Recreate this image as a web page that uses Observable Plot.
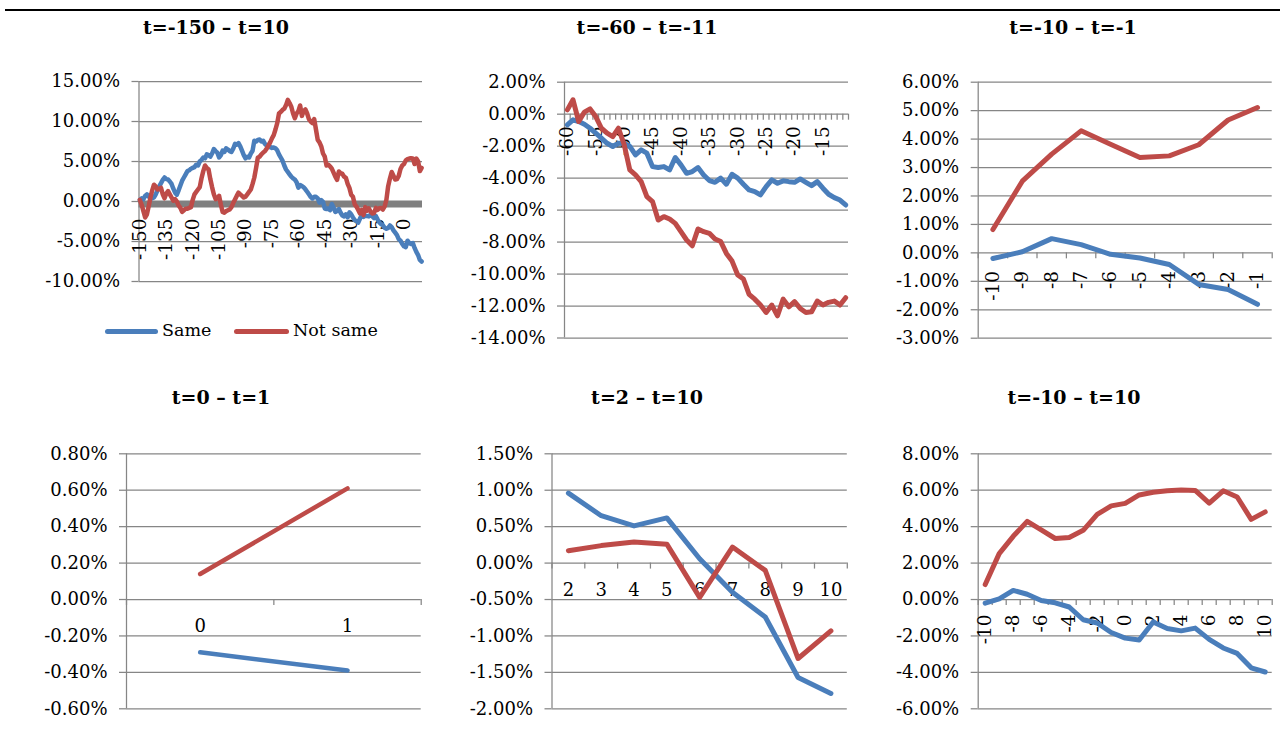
<!DOCTYPE html>
<html>
<head>
<meta charset="utf-8">
<script src="https://cdn.jsdelivr.net/npm/d3@7"></script>
<script src="https://cdn.jsdelivr.net/npm/@observablehq/plot@0.6"></script>
<style>
  body { margin: 0; background: #fff; }
  #page { position: relative; width: 1285px; height: 749px; overflow: hidden; font-family: "DejaVu Serif", serif; color: #000; }
  .title { position: absolute; font-weight: bold; font-size: 19px; white-space: nowrap; transform: translate(-50%, -50%); line-height: 1; }
  #toprule { position: absolute; left: 5px; top: 9px; width: 1275px; height: 2px; background: #000; }
  .plotwrap { position: absolute; left: 0; top: 0; }
  .legline { position: absolute; height: 5px; border-radius: 3px; }
  .legtext { position: absolute; font-size: 17.5px; white-space: nowrap; transform: translateY(-50%); line-height: 1; }
</style>
</head>
<body>
<div id="page">
  <div id="toprule"></div>
  <div class="title" style="left:216px;top:27px">t=-150 – t=10</div>
  <div class="title" style="left:647px;top:27px">t=-60 – t=-11</div>
  <div class="title" style="left:1073px;top:27px">t=-10 – t=-1</div>
  <div class="title" style="left:221px;top:397px">t=0 – t=1</div>
  <div class="title" style="left:647px;top:397px">t=2 – t=10</div>
  <div class="title" style="left:1074px;top:397px">t=-10 – t=10</div>
  <div class="legline" style="left:105px;top:328.5px;width:53px;background:#4A7EBB"></div>
  <div class="legtext" style="left:162px;top:331px">Same</div>
  <div class="legline" style="left:234px;top:328.5px;width:55px;background:#BE4B48"></div>
  <div class="legtext" style="left:293px;top:331px">Not same</div>
</div>
<script>
// ---------- data (values in percent) ----------
const seriesNames = ["Same", "Not same"];

// Panel 1: t=-150 .. t=10
const p1Categories = d3.range(-150, 11);
const p1Labels = [-150, -135, -120, -105, -90, -75, -60, -45, -30, -15, 0];
const p1Same = [
  0.2, 0.4, 0.3, 0.7, 0.9, 0.6, 0.8, 0.4, 0.5, 0.9,
  1.4, 1.9, 2.3, 2.7, 3.0, 2.8, 2.75, 2.5, 2.2, 1.6,
  1.1, 0.85, 1.4, 2.0, 2.6, 3.0, 3.4, 3.8, 3.9, 4.1,
  4.2, 4.3, 4.6, 4.5, 5.0, 5.2, 5.5, 5.4, 5.9, 5.8,
  5.6, 6.0, 6.55, 6.3, 6.1, 5.5, 5.8, 6.35, 6.2, 6.65,
  6.5, 6.3, 6.2, 6.6, 7.2, 7.1, 7.3, 6.9, 6.35, 5.8,
  5.4, 5.6, 5.5, 6.0, 6.35, 7.6, 7.5, 7.7, 7.75, 7.5,
  7.6, 7.2, 7.0, 7.1, 6.8, 6.7, 6.75, 6.65, 6.4, 5.9,
  5.5, 5.1, 4.5, 4.0, 3.7, 3.4, 3.1, 2.9, 2.75, 2.4,
  1.73, 2.05, 1.94, 1.77, 1.52, 1.21, 0.90, 0.58, 0.38, 0.58,
  0.58, 0.38, -0.15, 0.17, -0.04, -0.88, -0.94, -0.88, -1.09, -0.31,
  -0.77, -1.30, -1.19, -0.94, -1.40, -1.75, -1.86, -1.60, -1.98, -1.36,
  -1.60, -1.98, -2.34, -2.44, -2.65, -2.13, -1.71, -1.92, -1.77, -1.82,
  -1.86, -1.65, -1.86, -2.07, -1.82, -2.23, -2.61, -2.82, -2.97, -3.28,
  -3.4, -3.3, -3.0, -3.2, -3.6, -3.9, -4.2, -4.7, -4.9, -5.3, -5.6,
  -5.7, -4.9, -5.2, -5.3, -5.2, -5.8, -6.3, -6.7, -7.3, -7.5
];
const p1NotSame = [
  0.2, -0.4, -1.2, -2.0, -1.6, -0.6, 0.5, 1.4, 2.1, 1.9,
  1.5, 1.6, 1.7, 0.9, 0.4, 1.0, 1.3, 0.9, 0.5, 0.1,
  0.3, 0.0, -0.5, -0.8, -1.3, -1.1, -0.9, -0.9, -0.8, -0.7,
  0.2, 0.9, 1.2, 1.5, 1.8, 2.9, 3.8, 4.5, 4.2, 4.0,
  2.8, 1.8, 0.9, 0.3, 0.4, 0.7, -0.4, -1.3, -1.4, -1.2,
  -1.1, -1.0, -0.7, -0.2, 0.25, 0.7, 1.1, 0.9, 0.7, 0.5,
  0.6, 0.9, 1.2, 1.5, 2.2, 3.0, 4.2, 5.5, 5.6, 5.9,
  6.1, 6.3, 6.6, 7.0, 7.4, 7.9, 8.3, 9.0, 9.8, 11.0,
  11.2, 11.45, 11.6, 12.05, 12.7, 12.3, 11.85, 11.0, 10.4, 11.0,
  11.3, 12.0, 10.7, 11.3, 11.5, 11.0, 10.3, 10.0, 9.8, 10.3,
  9.0, 7.7, 7.4, 6.9, 6.0, 5.6, 4.5, 4.6, 4.4, 4.1,
  3.6, 3.1, 2.7, 3.75, 3.55, 3.45, 3.1, 2.95, 2.2, 1.7,
  0.85, 0.6, -0.35, -0.65, -1.05, -1.5, -1.05, -1.7, -0.7, -1.15,
  -0.85, -1.25, -1.5, -1.45, -0.8, -1.05, -0.85, -0.8, -1.0, -0.6,
  0.22, 1.92, 2.87, 3.69, 3.22, 2.75, 2.81, 3.20, 4.07, 4.51, 4.68,
  5.14, 5.29, 5.37, 5.41, 5.39, 4.68, 5.36, 5.03, 3.80, 4.20
];
const p1Ticks = [-10, -5, 0, 5, 10, 15];

// Panel 2: t=-60 .. t=-11
const p2Categories = d3.range(-60, -10);
const p2Labels = [-60, -55, -50, -45, -40, -35, -30, -25, -20, -15];
const p2Same = [
  -0.67, -0.35, -0.46, -0.63, -0.88, -1.19, -1.50, -1.82, -2.02, -1.82,
  -1.82, -2.02, -2.55, -2.23, -2.44, -3.28, -3.34, -3.28, -3.49, -2.71,
  -3.17, -3.70, -3.59, -3.34, -3.80, -4.15, -4.26, -4.00, -4.38, -3.76,
  -4.00, -4.38, -4.74, -4.84, -5.05, -4.53, -4.11, -4.32, -4.17, -4.22,
  -4.26, -4.05, -4.26, -4.47, -4.22, -4.63, -5.01, -5.22, -5.37, -5.68
];
const p2NotSame = [
  0.27, 0.90, -0.46, 0.13, 0.33, -0.15, -0.88, -1.19, -1.40, -0.88,
  -1.90, -3.49, -3.80, -4.22, -5.16, -5.47, -6.62, -6.41, -6.56, -6.83,
  -7.35, -7.87, -8.23, -7.18, -7.35, -7.45, -7.81, -7.97, -8.71, -9.19,
  -10.06, -10.31, -11.27, -11.57, -11.94, -12.40, -11.94, -12.61, -11.57, -12.05,
  -11.73, -12.15, -12.40, -12.36, -11.69, -11.94, -11.77, -11.69, -11.94, -11.48
];
const p2Ticks = [-14, -12, -10, -8, -6, -4, -2, 0, 2];

// Panel 3: t=-10 .. t=-1
const p3Categories = [-10, -9, -8, -7, -6, -5, -4, -3, -2, -1];
const p3Labels = p3Categories;
const p3Same = [-0.20, 0.04, 0.50, 0.29, -0.05, -0.18, -0.41, -1.11, -1.29, -1.81];
const p3NotSame = [0.82, 2.52, 3.47, 4.29, 3.82, 3.35, 3.41, 3.80, 4.67, 5.11];
const p3Ticks = [-3, -2, -1, 0, 1, 2, 3, 4, 5, 6];

// Panel 4: t=0 .. t=1
const p4Categories = [0, 1];
const p4Labels = p4Categories;
const p4Same = [-0.29, -0.39];
const p4NotSame = [0.14, 0.61];
const p4Ticks = [-0.6, -0.4, -0.2, 0, 0.2, 0.4, 0.6, 0.8];

// Panel 5: t=2 .. t=10
const p5Categories = [2, 3, 4, 5, 6, 7, 8, 9, 10];
const p5Labels = p5Categories;
const p5Same = [0.96, 0.65, 0.51, 0.62, 0.06, -0.40, -0.74, -1.57, -1.79];
const p5NotSame = [0.17, 0.24, 0.29, 0.26, -0.47, 0.22, -0.10, -1.31, -0.93];
const p5Ticks = [-2, -1.5, -1, -0.5, 0, 0.5, 1, 1.5];

// Panel 6: t=-10 .. t=10
const p6Categories = d3.range(-10, 11);
const p6Labels = [-10, -8, -6, -4, -2, 0, 2, 4, 6, 8, 10];
const p6Same = [-0.20, 0.04, 0.50, 0.29, -0.05, -0.18, -0.41, -1.11, -1.29, -1.81, -2.12,
                -2.22, -1.23, -1.59, -1.72, -1.57, -2.19, -2.66, -2.96, -3.75, -3.98];
const p6NotSame = [0.82, 2.52, 3.47, 4.29, 3.82, 3.35, 3.41, 3.80, 4.67, 5.14, 5.28,
                   5.74, 5.89, 5.97, 6.01, 5.99, 5.29, 5.97, 5.63, 4.40, 4.81];
const p6Ticks = [-6, -4, -2, 0, 2, 4, 6, 8];

// ---------- drawing ----------
const W = 1285, H = 749;
const BLUE = "#4A7EBB", RED = "#BE4B48", GRID = "#868686";

function panel(o) {
  const {cats, same, notSame, x0, x1, y0, y1, yDomain, yTicks, labels, rotate, labelDy,
         lineWidth = 5, zeroBand = false, catTicks = true} = o;
  const xDomain = [cats[0] - 0.5, cats[cats.length - 1] + 0.5];
  const bounds = d3.range(cats.length + 1).map(i => cats[0] - 0.5 + i);
  const marks = [
    Plot.gridY({ticks: yTicks, stroke: GRID, strokeOpacity: 1, strokeWidth: 1.25}),
    Plot.axisY({ticks: yTicks, tickSize: 7, tickPadding: 12, tickFormat: d => d.toFixed(2) + "%",
                stroke: GRID, strokeOpacity: 1, strokeWidth: 1.25, fill: "#000", fontSize: 18, label: null}),
    Plot.ruleX([xDomain[0]], {stroke: GRID, strokeWidth: 1.25})
  ];
  if (zeroBand) marks.push(Plot.ruleY([0], {stroke: "#808080", strokeWidth: 7, dy: 2.5}));
  if (catTicks) marks.push(Plot.ruleX(bounds, {x: d => d, y1: 0, y2: 0, insetBottom: -6, stroke: GRID, strokeWidth: 1.25}));
  marks.push(Plot.text(labels, {
    x: d => d, y: 0, text: d => String(d),
    rotate: rotate ? -90 : 0, textAnchor: rotate ? "end" : "middle", lineAnchor: "middle",
    dy: labelDy, fontSize: rotate ? 18.5 : 18, fill: "#000"
  }));
  const lineOpts = {x: cats, strokeWidth: lineWidth, strokeLinecap: "round", strokeLinejoin: "round"};
  marks.push(Plot.lineY(same, {...lineOpts, stroke: BLUE}));
  marks.push(Plot.lineY(notSame, {...lineOpts, stroke: RED}));
  const svg = Plot.plot({
    width: W, height: H,
    marginLeft: x0, marginRight: W - x1, marginTop: y0, marginBottom: H - y1,
    x: {domain: xDomain, axis: null},
    y: {domain: yDomain},
    style: {background: "transparent", fontFamily: "DejaVu Serif", fontSize: "18px", color: "#000", overflow: "visible"},
    marks
  });
  const wrap = document.createElement("div");
  wrap.className = "plotwrap";
  wrap.appendChild(svg);
  document.getElementById("page").appendChild(wrap);
}

panel({cats: p1Categories, same: p1Same, notSame: p1NotSame, x0: 138.5, x1: 422, y0: 81, y1: 281,
       yDomain: [-10, 15], yTicks: p1Ticks, labels: p1Labels, rotate: true, labelDy: 17, zeroBand: true, catTicks: false, lineWidth: 4.5});
panel({cats: p2Categories, same: p2Same, notSame: p2NotSame, x0: 564, x1: 848, y0: 81.7, y1: 337.5,
       yDomain: [-14, 2], yTicks: p2Ticks, labels: p2Labels, rotate: true, labelDy: 12});
panel({cats: p3Categories, same: p3Same, notSame: p3NotSame, x0: 977.7, x1: 1271.7, y0: 81.7, y1: 337.7,
       yDomain: [-3, 6], yTicks: p3Ticks, labels: p3Labels, rotate: true, labelDy: 18});
panel({cats: p4Categories, same: p4Same, notSame: p4NotSame, x0: 126, x1: 420.7, y0: 453.3, y1: 708.3,
       yDomain: [-0.6, 0.8], yTicks: p4Ticks, labels: p4Labels, rotate: false, labelDy: 27, lineWidth: 4.5});
panel({cats: p5Categories, same: p5Same, notSame: p5NotSame, x0: 551.5, x1: 846.8, y0: 453.3, y1: 708.3,
       yDomain: [-2, 1.5], yTicks: p5Ticks, labels: p5Labels, rotate: false, labelDy: 27});
panel({cats: p6Categories, same: p6Same, notSame: p6NotSame, x0: 977.7, x1: 1271.7, y0: 453.3, y1: 708.3,
       yDomain: [-6, 8], yTicks: p6Ticks, labels: p6Labels, rotate: true, labelDy: 15});
</script>
</body>
</html>
